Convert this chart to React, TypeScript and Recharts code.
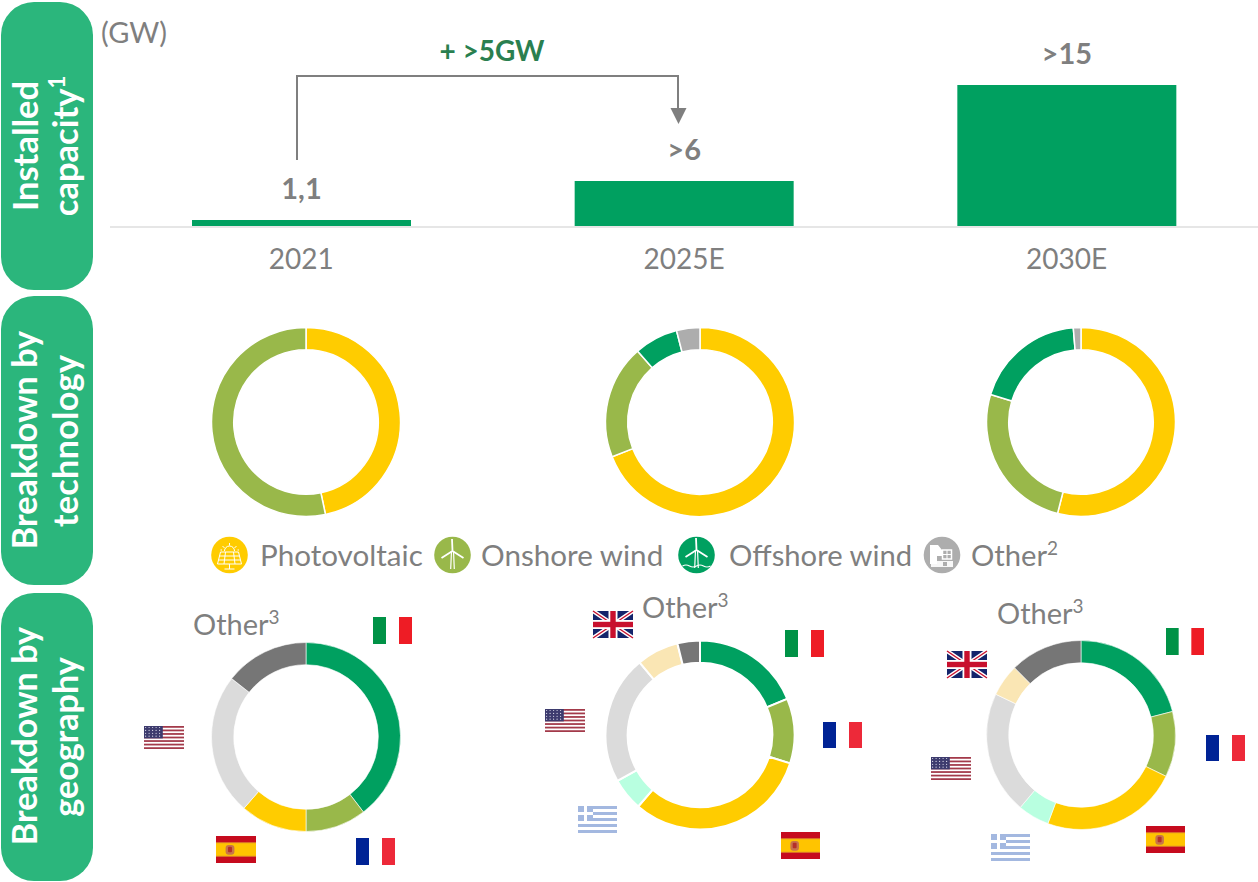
import React from "react";
import { BarChart, Bar, XAxis, YAxis, LabelList, PieChart, Pie, Cell } from "recharts";

const W = 1258;
const H = 882;
const FONT = "Lato, 'Open Sans', sans-serif";
const GREY = "#7F7F7F";
const TILE = "#2BB67C";

const years = ["2021", "2025E", "2030E"];
const capacity = [0.91, 6, 18.5];
const capacityLabels = ["1,1", ">6", ">15"];

const techNames = ["Photovoltaic", "Onshore wind", "Offshore wind", "Other"];
const techColors = ["#FFCC00", "#99B84A", "#00A060", "#ADADAD"];
const tech2021 = [46.7, 53.3, 0, 0];
const tech2025 = [69, 19.5, 7.5, 4];
const tech2030 = [54, 25.7, 19, 1.3];

const geoNames = ["Italy", "France", "Spain", "Greece", "USA", "UK", "Other"];
const geoColors = ["#00A060", "#99B84A", "#FFCC00", "#B8FFE0", "#DBDBDB", "#FAE6B4", "#767676"];
const geo2021 = [39.6, 10.4, 11.4, 0, 24.2, 0, 14.4];
const geo2025 = [18.75, 11.1, 31.5, 5.6, 22, 7.2, 3.85];
const geo2030 = [21, 11.2, 23.5, 5.4, 21, 5.5, 12.4];

const barRows = years.map((year, i) => ({ year, value: capacity[i], label: capacityLabels[i] }));

const rows = (names: string[], values: number[]) =>
  names.map((name, i) => ({ name, value: values[i] }));

function Donut({ cx, cy, names, values, colors, sw }: any) {
  const size = 204;
  return (
    <div style={{ position: "absolute", left: cx - size / 2, top: cy - size / 2, width: size, height: size }}>
      <PieChart width={size} height={size} margin={{ top: 0, right: 0, bottom: 0, left: 0 }}>
        <Pie
          data={rows(names, values)}
          dataKey="value"
          nameKey="name"
          cx="50%"
          cy="50%"
          innerRadius={72.3}
          outerRadius={94.5}
          startAngle={90}
          endAngle={-270}
          stroke="#fff"
          strokeWidth={sw}
          isAnimationActive={false}
        >
          {names.map((n: string, i: number) => (
            <Cell key={n} fill={colors[i]} />
          ))}
        </Pie>
      </PieChart>
    </div>
  );
}

function Flag({ kind, x, y, w = 39, h = 27 }: any) {
  if (kind === "it" || kind === "fr") {
    const c = kind === "it" ? ["#009246", "#EE1C25"] : ["#002395", "#ED2939"];
    return (
      <g>
        <rect x={x} y={y} width={w / 3} height={h} fill={c[0]} />
        <rect x={x + (2 * w) / 3} y={y} width={w / 3} height={h} fill={c[1]} />
      </g>
    );
  }
  if (kind === "es") {
    return (
      <g>
        <rect x={x} y={y} width={w} height={h} fill="#C60B1E" />
        <rect x={x} y={y + h / 4 - 0.5} width={w} height={h / 2 + 1} fill="#E0902A" />
        <rect x={x} y={y + h / 4 + 0.5} width={w} height={h / 2 - 1} fill="#FFC400" />
        <rect x={x + w * 0.24} y={y + h * 0.33} width={w * 0.22} height={h * 0.36} rx={3} fill="#C8734A" />
        <rect x={x + w * 0.3} y={y + h * 0.4} width={w * 0.1} height={h * 0.2} rx={1} fill="#B5302A" />
      </g>
    );
  }
  if (kind === "us") {
    const s = h / 13;
    return (
      <g>
        <rect x={x} y={y} width={w} height={h} fill="#fff" />
        {Array.from({ length: 7 }).map((_, i) => (
          <rect key={i} x={x} y={y + i * 2 * s} width={w} height={s} fill="#A33A4A" />
        ))}
        <rect x={x} y={y} width={w * 0.47} height={s * 7} fill="#3D3B6E" />
        {Array.from({ length: 20 }).map((_, i) => (
          <circle key={i} cx={x + 1.6 + (i % 5) * 3.5} cy={y + 1.5 + Math.floor(i / 5) * 2.9} r={0.6} fill="#D8D8E8" />
        ))}
      </g>
    );
  }
  if (kind === "gr") {
    const s = h / 9;
    return (
      <g>
        <rect x={x} y={y} width={w} height={h} fill="#fff" />
        {[0, 2, 4, 6, 8].map((i) => (
          <rect key={i} x={x} y={y + i * s} width={w} height={s} fill="#A3B8E0" />
        ))}
        <rect x={x} y={y} width={s * 5} height={s * 5} fill="#A3B8E0" />
        <rect x={x} y={y + s * 2} width={s * 5} height={s} fill="#fff" />
        <rect x={x + s * 2} y={y} width={s} height={s * 5} fill="#fff" />
      </g>
    );
  }
  const r = x + w;
  const b = y + h;
  return (
    <g>
      <rect x={x} y={y} width={w} height={h} fill="#14246B" />
      <path d={`M${x} ${y}L${r} ${b}M${r} ${y}L${x} ${b}`} stroke="#fff" strokeWidth={4} />
      <path d={`M${x} ${y}L${r} ${b}M${r} ${y}L${x} ${b}`} stroke="#C8102E" strokeWidth={1.4} />
      <rect x={x + w / 2 - 4.5} y={y} width={9} height={h} fill="#fff" />
      <rect x={x} y={y + h / 2 - 4.5} width={w} height={9} fill="#fff" />
      <rect x={x + w / 2 - 2.7} y={y} width={5.4} height={h} fill="#C8102E" />
      <rect x={x} y={y + h / 2 - 2.7} width={w} height={5.4} fill="#C8102E" />
    </g>
  );
}

function Turbine({ cx, cy, sea }: any) {
  const hub = cy - 4;
  return (
    <g stroke="#fff" fill="none" strokeWidth={1.2}>
      <path d={`M${cx - 1} ${hub}L${cx - 1.8} ${cy + 14}M${cx + 1} ${hub}L${cx + 1.8} ${cy + 14}`} />
      <path d={`M${cx} ${hub}L${cx - 0.5} ${cy - 16}M${cx} ${hub}L${cx - 11} ${cy + 3}M${cx} ${hub}L${cx + 11} ${cy + 3}`} strokeWidth={1.8} />
      {sea && <path d={`M${cx - 14} ${cy + 12}q3.5 -2 7 0t7 0t7 0t7 0`} />}
    </g>
  );
}

function Icon({ kind, cx, cy, fill }: any) {
  return (
    <g>
      <circle cx={cx} cy={cy} r={18.3} fill={fill} />
      {kind === "pv" && (
        <g stroke="#fff" fill="none" strokeWidth={1}>
          <path d={`M${cx - 9} ${cy - 3}h18l3 12h-24zM${cx - 10} ${cy + 1}h20M${cx - 11} ${cy + 5}h22M${cx - 4} ${cy - 3}l-1.5 12M${cx + 4} ${cy - 3}l1.5 12M${cx} ${cy + 9}v5M${cx - 5} ${cy + 14}h10`} />
          <path d={`M${cx - 5} ${cy - 4}a5 5 0 0 1 10 0M${cx} ${cy - 12}v2.5M${cx - 7} ${cy - 9}l2 2M${cx + 7} ${cy - 9}l-2 2M${cx - 9} ${cy - 5}h1.5M${cx + 8} ${cy - 5}h1.5`} />
        </g>
      )}
      {kind === "on" && <Turbine cx={cx} cy={cy} />}
      {kind === "off" && <Turbine cx={cx} cy={cy - 1} sea />}
      {kind === "oth" && (
        <g>
          <path d={`M${cx - 12} ${cy - 10}h8l4 5v6h-5v8h-7z`} fill="#fff" />
          <rect x={cx + 0.5} y={cy - 5} width={9} height={9} fill="none" stroke="#fff" strokeWidth={1.5} />
          <path d={`M${cx + 5} ${cy - 5}v9M${cx + 0.5} ${cy - 0.5}h9`} stroke="#fff" strokeWidth={1} />
          <rect x={cx - 11} y={cy + 6} width={22} height={6} fill="#fff" opacity={0.9} />
          <rect x={cx + 1} y={cy + 7} width={4} height={4} fill="#ADADAD" />
        </g>
      )}
    </g>
  );
}

function Vert({ x, cy, children, size = 34.2, len }: any) {
  return (
    <text
      transform={`rotate(-90 ${x} ${cy})`}
      x={x}
      y={cy}
      textAnchor="middle"
      fill="#fff"
      fontSize={size}
      fontWeight={700}
      fontFamily={FONT}
      {...(len ? { textLength: len, lengthAdjust: "spacing" } : {})}
    >
      {children}
    </text>
  );
}

function Other({ x, y, n }: any) {
  return (
    <text x={x} y={y} fill={GREY} fontSize={29} fontFamily={FONT}>
      Other
      <tspan fontSize={19} dy={-11}>
        {n}
      </tspan>
    </text>
  );
}

export default function App() {
  return (
    <div style={{ position: "absolute", left: 0, top: 0, width: W, height: H, background: "#fff", fontFamily: FONT }}>
      <div style={{ position: "absolute", left: 0, top: 0 }}>
        <BarChart
          width={W}
          height={290}
          data={barRows}
          margin={{ top: 85, right: 0, bottom: 0, left: 110 }}
          barCategoryGap={0}
        >
          <YAxis hide domain={[0, 18.5]} />
          <XAxis
            dataKey="year"
            height={63}
            axisLine={{ stroke: "#E6E6E6", strokeWidth: 2 }}
            tickLine={false}
            interval={0}
            tick={{ fill: GREY, fontSize: 28, fontFamily: FONT, dy: 14 }}
          />
          <Bar dataKey="value" fill="#00A060" barSize={219} isAnimationActive={false}>
            <LabelList
              dataKey="label"
              position="top"
              offset={21}
              fill={GREY}
              fontSize={29}
              fontWeight={700}
              fontFamily={FONT}
            />
          </Bar>
        </BarChart>
      </div>

      <Donut cx={305.5} cy={421.7} names={techNames} values={tech2021} colors={techColors} sw={1.5} />
      <Donut cx={700} cy={422} names={techNames} values={tech2025} colors={techColors} sw={1.5} />
      <Donut cx={1080.5} cy={422} names={techNames} values={tech2030} colors={techColors} sw={1.5} />
      <Donut cx={305.5} cy={737} names={geoNames} values={geo2021} colors={geoColors} sw={0.6} />
      <Donut cx={700} cy={735} names={geoNames} values={geo2025} colors={geoColors} sw={2} />
      <Donut cx={1080.5} cy={735} names={geoNames} values={geo2030} colors={geoColors} sw={0.6} />

      <svg width={W} height={H} style={{ position: "absolute", left: 0, top: 0, pointerEvents: "none" }}>
        <rect x={1} y={2} width={92} height={288} rx={33} fill={TILE} />
        <rect x={1} y={296} width={92} height={289} rx={33} fill={TILE} />
        <rect x={1} y={593} width={92} height={288} rx={33} fill={TILE} />
        <Vert x={38} cy={146} size={34.5}>Installed</Vert>
        <Vert x={78} cy={146} size={34.5}>
          capacity
          <tspan fontSize={22} dy={-13}>1</tspan>
        </Vert>
        <Vert x={37} cy={440}>Breakdown by</Vert>
        <Vert x={78} cy={441} len={172}>technology</Vert>
        <Vert x={37} cy={736}>Breakdown by</Vert>
        <Vert x={78} cy={737}>geography</Vert>

        <text x={101} y={43} fill={GREY} fontSize={29} fontFamily={FONT}>(GW)</text>
        <text x={492} y={61} textAnchor="middle" fill="#2A7F50" fontSize={28} fontWeight={700} fontFamily={FONT}>
          + &gt;5GW
        </text>
        <path d="M297 160V76H678V108" fill="none" stroke={GREY} strokeWidth={2} />
        <path d="M670.5 108H686.5L678.5 124Z" fill={GREY} />

        <Icon kind="pv" cx={229.5} cy={555} fill={techColors[0]} />
        <Icon kind="on" cx={452.5} cy={555} fill={techColors[1]} />
        <Icon kind="off" cx={696.5} cy={555} fill={techColors[2]} />
        <Icon kind="oth" cx={942} cy={555} fill={techColors[3]} />
        <text x={260} y={566} fill={GREY} fontSize={29.6} fontFamily={FONT}>{techNames[0]}</text>
        <text x={481} y={566} fill={GREY} fontSize={29.6} fontFamily={FONT}>{techNames[1]}</text>
        <text x={729} y={566} fill={GREY} fontSize={29.2} fontFamily={FONT}>{techNames[2]}</text>
        <text x={971} y={566} fill={GREY} fontSize={29.2} fontFamily={FONT}>
          {techNames[3]}
          <tspan fontSize={19} dy={-11}>2</tspan>
        </text>

        <Other x={193} y={635} n="3" />
        <Other x={642} y={618} n="3" />
        <Other x={997} y={624} n="3" />

        <Flag kind="it" x={373} y={617} />
        <Flag kind="us" x={144} y={726} w={40} h={23} />
        <Flag kind="es" x={216} y={836} w={40} />
        <Flag kind="fr" x={356} y={838} />

        <Flag kind="uk" x={593} y={611} w={40} />
        <Flag kind="it" x={785} y={630} />
        <Flag kind="fr" x={823} y={722} h={26} />
        <Flag kind="us" x={545} y={709} w={40} h={23} />
        <Flag kind="gr" x={578} y={806} />
        <Flag kind="es" x={781} y={832} />

        <Flag kind="it" x={1166} y={628} w={38} />
        <Flag kind="uk" x={947} y={651} w={40} />
        <Flag kind="fr" x={1206} y={735} h={26} />
        <Flag kind="us" x={931} y={757} w={40} h={23} />
        <Flag kind="gr" x={991} y={834} />
        <Flag kind="es" x={1146} y={826} />
      </svg>
    </div>
  );
}
